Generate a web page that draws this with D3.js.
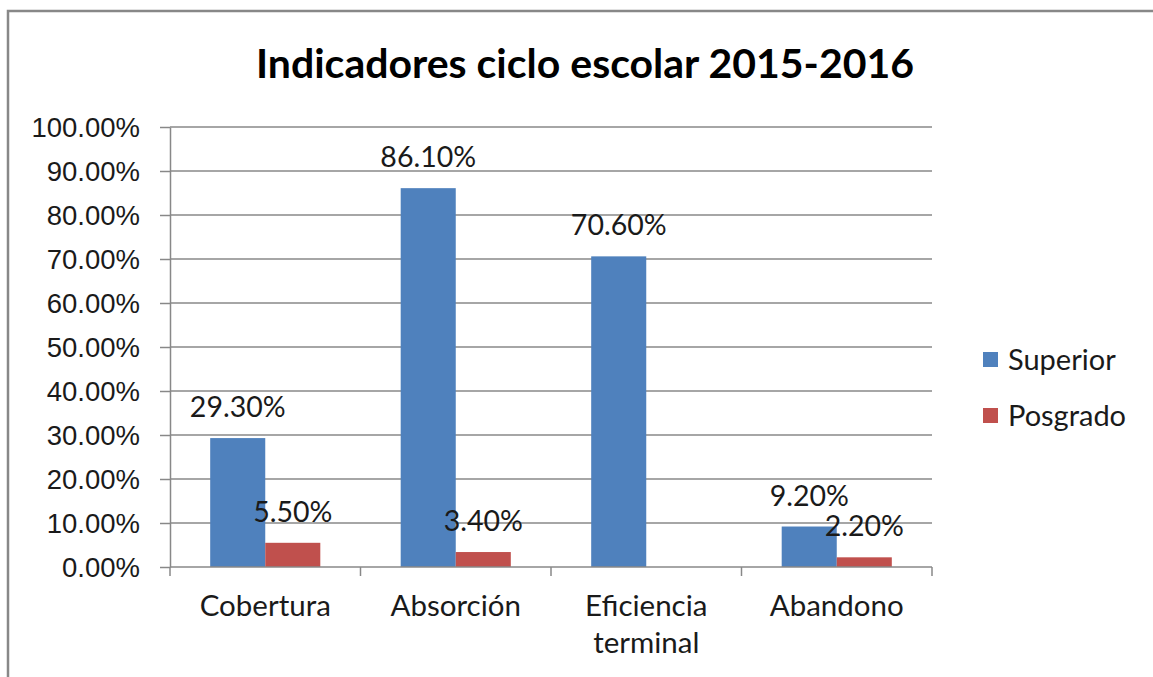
<!DOCTYPE html>
<html>
<head>
<meta charset="utf-8">
<script src="https://cdn.jsdelivr.net/npm/d3@7"></script>
<style>
  body { margin: 0; background: #fff; }
  svg { display: block; font-family: Lato, "Open Sans", sans-serif; }
  .grid line { stroke: #888; stroke-width: 1.5; }
  .axis path, .axis line { stroke: #888; stroke-width: 1.5; }
  .axis text { fill: #1a1a1a; font-size: 27.5px; }
  .bar-label { fill: #1a1a1a; font-size: 28.5px; text-anchor: middle; }
</style>
</head>
<body>
<svg id="chart"></svg>
<script>
const categories = ['Cobertura', 'Absorción', 'Eficiencia terminal', 'Abandono']
const series = ['Superior', 'Posgrado']
const superior = [0.293, 0.861, 0.706, 0.092]
const posgrado = [0.055, 0.034, null, 0.022]
const yTicks = [0, 0.1, 0.2, 0.3, 0.4, 0.5, 0.6, 0.7, 0.8, 0.9, 1]
const colors = ['#4F81BD', '#C0504D']

const width = 1153, height = 677
const PLOT = { left: 170, right: 932, top: 127, bottom: 567 }

const $svg = d3.select('#chart').attr('width', width).attr('height', height)

// outer frame (right/bottom edges are cut off in the original)
$svg.append('rect')
  .attr('x', 8).attr('y', 11)
  .attr('width', width + 20).attr('height', height + 20)
  .attr('fill', 'none')
  .attr('stroke', '#888')
  .attr('stroke-width', 2.5)

$svg.append('text')
  .attr('x', 585).attr('y', 78)
  .attr('text-anchor', 'middle')
  .attr('font-weight', 'bold')
  .attr('font-size', 41)
  .attr('fill', '#000')
  .text('Indicadores ciclo escolar 2015-2016')

const yScale = d3.scaleLinear().domain([0, 1]).range([PLOT.bottom, PLOT.top])
const x0 = d3.scaleBand().domain(categories).range([PLOT.left, PLOT.right])
const x1 = d3.scaleBand().domain(series).range([0, x0.bandwidth()]).paddingOuter(0.73)

// gridlines
$svg.append('g').attr('class', 'grid')
  .selectAll('line').data(yTicks.slice(1)).join('line')
    .attr('x1', PLOT.left).attr('x2', PLOT.right)
    .attr('y1', d => yScale(d)).attr('y2', d => yScale(d))

// bars
const rows = categories.map((c, i) => ({ cat: c, vals: [superior[i], posgrado[i]] }))
const $groups = $svg.append('g').selectAll('g').data(rows).join('g')
  .attr('transform', d => `translate(${x0(d.cat)},0)`)
const cells = d => d.vals.map((v, j) => ({ s: series[j], v, j })).filter(e => e.v != null)
$groups.selectAll('rect').data(cells).join('rect')
  .attr('x', d => x1(d.s))
  .attr('width', x1.bandwidth())
  .attr('y', d => yScale(d.v))
  .attr('height', d => yScale(0) - yScale(d.v))
  .attr('fill', d => colors[d.j])
$groups.selectAll('text').data(cells).join('text')
  .attr('class', 'bar-label')
  .attr('x', d => x1(d.s) + x1.bandwidth() / 2)
  .attr('y', d => yScale(d.v) - 21)
  .text(d => d3.format('.2%')(d.v))

// y axis
const yAxis = $svg.append('g').attr('class', 'axis')
  .attr('transform', `translate(${PLOT.left},0)`)
  .call(d3.axisLeft(yScale).tickValues(yTicks).tickFormat(d3.format('.2%')).tickSize(10).tickSizeOuter(0).tickPadding(20))
yAxis.selectAll('text').attr('dy', '0.35em')

// x axis: ticks at category boundaries
const $x = $svg.append('g').attr('class', 'axis')
$x.append('line')
  .attr('x1', PLOT.left).attr('x2', PLOT.right)
  .attr('y1', PLOT.bottom).attr('y2', PLOT.bottom)
const bounds = categories.map(c => x0(c)).concat([PLOT.right])
$x.selectAll('.xt').data(bounds).join('line').attr('class', 'xt')
  .attr('x1', d => d).attr('x2', d => d)
  .attr('y1', PLOT.bottom).attr('y2', PLOT.bottom + 9)

const $catLabels = $x.selectAll('.cat').data(categories).join('text').attr('class', 'cat')
  .attr('text-anchor', 'middle')
  .style('font-size', '29.5px')
  .attr('x', d => x0(d) + x0.bandwidth() / 2)
  .attr('y', 616)
$catLabels.each(function (d) {
  const $t = d3.select(this)
  $t.text(d)
  if (this.getComputedTextLength() > x0.bandwidth() * 0.9) {
    $t.text(null)
    d.split(' ').forEach((w, i) => {
      $t.append('tspan').attr('x', x0(d) + x0.bandwidth() / 2)
        .attr('y', 616 + i * 37).text(w)
    })
  }
})

// legend
const $legend = $svg.append('g').selectAll('g').data(series).join('g')
  .attr('transform', (d, i) => `translate(983,${352 + i * 56})`)
$legend.append('rect').attr('width', 15).attr('height', 15)
  .attr('fill', (d, i) => colors[i])
$legend.append('text')
  .attr('x', 25).attr('y', 8).attr('dy', '0.35em')
  .attr('font-size', 29).attr('fill', '#1a1a1a')
  .text(d => d)
</script>
</body>
</html>
